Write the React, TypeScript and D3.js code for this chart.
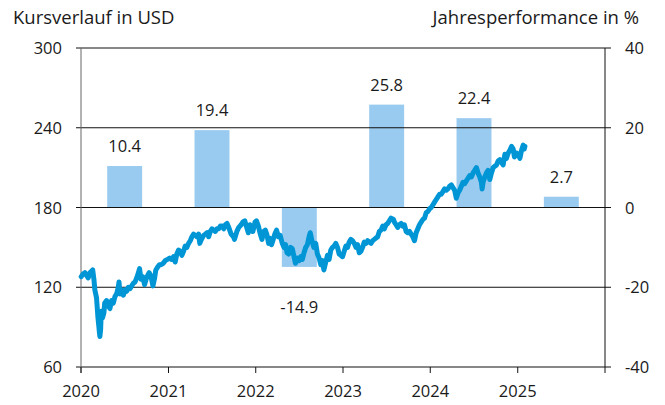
import React from "react";
import * as d3 from "d3";

const years = ["2020", "2021", "2022", "2023", "2024", "2025"];
const performance = [10.4, 19.4, -14.9, 25.8, 22.4, 2.7];
const leftTicks = [60, 120, 180, 240, 300];
const rightTicks = [-40, -20, 0, 20, 40];

const pricePoints: [string, number][] = [
  ["2020-01-02",128],["2020-01-10",130],["2020-01-17",131],["2020-01-24",129],["2020-01-31",127],["2020-02-07",131],["2020-02-14",132],["2020-02-19",133],
  ["2020-02-24",126],["2020-02-28",118],["2020-03-06",112],["2020-03-12",97],["2020-03-16",90],["2020-03-18",86],["2020-03-20",83],["2020-03-23",88],
  ["2020-03-26",102],["2020-03-31",97],["2020-04-06",101],["2020-04-09",108],["2020-04-17",110],["2020-04-24",106],["2020-05-01",104],["2020-05-08",110],
  ["2020-05-15",108],["2020-05-22",113],["2020-05-29",115],["2020-06-05",120],["2020-06-08",124],["2020-06-12",115],["2020-06-19",118],["2020-06-26",114],
  ["2020-07-03",118],["2020-07-10",117],["2020-07-17",120],["2020-07-24",119],["2020-07-31",121],["2020-08-07",123],["2020-08-14",124],["2020-08-21",127],
  ["2020-08-28",131],["2020-09-02",134],["2020-09-08",126],["2020-09-15",128],["2020-09-23",122],["2020-10-01",127],["2020-10-12",131],["2020-10-20",128],
  ["2020-10-28",121],["2020-11-04",127],["2020-11-09",133],["2020-11-16",135],["2020-11-24",137],["2020-12-01",137],["2020-12-10",138],["2020-12-18",140],
  ["2020-12-28",141],
  ["2021-01-06",142],["2021-01-14",141],["2021-01-22",143],["2021-01-29",139],["2021-02-05",145],["2021-02-12",148],["2021-02-19",147],["2021-02-26",144],
  ["2021-03-05",147],["2021-03-12",151],["2021-03-19",150],["2021-03-26",153],["2021-04-02",155],["2021-04-09",158],["2021-04-16",160],["2021-04-23",159],
  ["2021-04-30",158],["2021-05-07",160],["2021-05-12",153],["2021-05-19",156],["2021-05-28",159],["2021-06-04",160],["2021-06-11",161],["2021-06-18",158],
  ["2021-06-25",162],["2021-07-02",164],["2021-07-09",163],["2021-07-16",162],["2021-07-23",164],["2021-07-30",164],["2021-08-06",166],["2021-08-13",166],
  ["2021-08-20",164],["2021-08-27",167],["2021-09-03",168],["2021-09-10",165],["2021-09-20",160],["2021-09-30",158],["2021-10-04",156],["2021-10-14",162],
  ["2021-10-22",165],["2021-11-01",167],["2021-11-08",169],["2021-11-16",170],["2021-11-26",164],["2021-12-01",161],["2021-12-08",167],["2021-12-15",165],
  ["2021-12-20",162],["2021-12-29",169],
  ["2022-01-04",170],["2022-01-12",166],["2022-01-20",160],["2022-01-27",156],["2022-02-03",162],["2022-02-10",163],["2022-02-16",160],["2022-02-24",153],
  ["2022-03-01",157],["2022-03-08",152],["2022-03-15",156],["2022-03-22",160],["2022-03-29",163],["2022-04-06",158],["2022-04-13",159],["2022-04-22",153],
  ["2022-04-29",150],["2022-05-06",152],["2022-05-12",146],["2022-05-19",145],["2022-05-27",150],["2022-06-03",149],["2022-06-10",143],["2022-06-16",138],
  ["2022-06-24",142],["2022-07-01",140],["2022-07-08",143],["2022-07-15",141],["2022-07-22",146],["2022-07-29",150],["2022-08-05",152],["2022-08-12",158],
  ["2022-08-17",161],["2022-08-24",155],["2022-09-01",150],["2022-09-09",153],["2022-09-16",145],["2022-09-23",142],["2022-09-30",137],["2022-10-07",140],
  ["2022-10-13",133],["2022-10-21",139],["2022-10-28",144],["2022-11-04",141],["2022-11-11",148],["2022-11-18",150],["2022-11-25",151],["2022-12-02",153],
  ["2022-12-09",150],["2022-12-16",145],["2022-12-23",144],["2022-12-30",143],
  ["2023-01-06",147],["2023-01-13",151],["2023-01-20",150],["2023-01-27",154],["2023-02-03",156],["2023-02-10",155],["2023-02-17",153],["2023-02-24",150],
  ["2023-03-03",152],["2023-03-10",146],["2023-03-17",147],["2023-03-24",150],["2023-03-31",154],["2023-04-07",153],["2023-04-14",155],["2023-04-21",154],
  ["2023-04-28",153],["2023-05-05",155],["2023-05-12",156],["2023-05-19",157],["2023-05-26",158],["2023-06-02",162],["2023-06-09",163],["2023-06-16",166],
  ["2023-06-23",164],["2023-06-30",167],["2023-07-07",168],["2023-07-14",170],["2023-07-21",172],["2023-07-31",171],["2023-08-04",169],["2023-08-11",167],
  ["2023-08-18",165],["2023-08-25",167],["2023-09-01",168],["2023-09-08",166],["2023-09-15",167],["2023-09-22",162],["2023-09-29",161],["2023-10-06",162],
  ["2023-10-13",160],["2023-10-20",158],["2023-10-27",155],["2023-11-03",161],["2023-11-10",164],["2023-11-17",167],["2023-11-24",169],["2023-12-01",171],
  ["2023-12-08",172],["2023-12-15",176],["2023-12-22",177],["2023-12-29",179],
  ["2024-01-05",180],["2024-01-12",182],["2024-01-19",184],["2024-01-26",186],["2024-02-02",188],["2024-02-09",190],["2024-02-16",190],["2024-02-23",192],
  ["2024-03-01",194],["2024-03-08",193],["2024-03-15",194],["2024-03-22",196],["2024-03-29",197],["2024-04-05",195],["2024-04-12",193],["2024-04-19",187],
  ["2024-04-26",191],["2024-05-03",193],["2024-05-10",196],["2024-05-17",199],["2024-05-24",198],["2024-05-31",200],["2024-06-07",202],["2024-06-14",204],
  ["2024-06-21",203],["2024-06-28",206],["2024-07-05",208],["2024-07-12",210],["2024-07-19",206],["2024-07-26",203],["2024-08-02",199],["2024-08-05",194],
  ["2024-08-09",199],["2024-08-16",203],["2024-08-23",206],["2024-08-30",208],["2024-09-06",201],["2024-09-13",206],["2024-09-20",210],["2024-09-27",211],
  ["2024-10-04",212],["2024-10-11",215],["2024-10-18",216],["2024-10-25",214],["2024-11-01",212],["2024-11-08",220],["2024-11-15",217],["2024-11-22",221],
  ["2024-11-29",223],["2024-12-06",226],["2024-12-13",224],["2024-12-18",218],["2024-12-27",221],
  ["2025-01-03",220],["2025-01-10",217],["2025-01-17",223],["2025-01-24",227],["2025-01-28",224],["2025-01-31",226]
];

const W = 665, H = 405;
const left = 81, right = 605, top = 48, bottom = 367;
const font = "'Open Sans', Lato, sans-serif";

export default function App() {
  const parse = d3.timeParse("%Y-%m-%d");
  const x = d3.scaleTime().domain([new Date(2020, 0, 1), new Date(2026, 0, 1)]).range([left, right]);
  const yL = d3.scaleLinear().domain([60, 300]).range([bottom, top]);
  const yR = d3.scaleLinear().domain([-40, 40]).range([bottom, top]);
  const band = d3.scaleBand().domain(years).range([left, right]).paddingInner(0.6).paddingOuter(0.3);
  const data = pricePoints.map(([d, v]) => ({ date: parse(d) as Date, v }));
  const line = d3.line<{ date: Date; v: number }>().x(d => x(d.date)).y(d => yL(d.v));
  const yearTicks = d3.range(2020, 2027).map(y => new Date(y, 0, 1));

  return (
    <svg width={W} height={H} style={{ position: "absolute", left: 0, top: 0, fontFamily: font }}>
      <rect width={W} height={H} fill="#fff" />
      <text x={13} y={24} fontSize={18.5} fill="#1a1a1a">Kursverlauf in USD</text>
      <text x={639} y={24} fontSize={18.5} fill="#1a1a1a" textAnchor="end">Jahresperformance in %</text>

      {performance.map((p, i) => {
        const y0 = yR(0), y1 = yR(p);
        return (
          <g key={years[i]}>
            <rect x={band(years[i])} width={band.bandwidth()} y={Math.min(y0, y1)} height={Math.abs(y1 - y0)} fill="#99CAEF" />
            <text x={(band(years[i]) as number) + band.bandwidth() / 2} y={p >= 0 ? y1 - 14 : y1 + 46} fontSize={16.5} textAnchor="middle" fill="#1a1a1a">{p.toFixed(1)}</text>
          </g>
        );
      })}

      {leftTicks.map(t => (
        <g key={"l" + t}>
          <line x1={left - 5} x2={right + 6} y1={yL(t)} y2={yL(t)} stroke="#111" strokeWidth={1} />
          <text x={62} y={yL(t) + 6} fontSize={16.5} textAnchor="end" fill="#1a1a1a">{t}</text>
        </g>
      ))}
      {rightTicks.map(t => (
        <text key={"r" + t} x={625} y={yR(t) + 6} fontSize={16.5} fill="#1a1a1a">{t}</text>
      ))}
      <line x1={left} x2={left} y1={top} y2={bottom + 6} stroke="#666" strokeWidth={1} />
      <line x1={right} x2={right} y1={top} y2={bottom} stroke="#111" strokeWidth={1} />
      {yearTicks.map((d, i) => (
        <g key={"x" + i}>
          <line x1={x(d)} x2={x(d)} y1={bottom} y2={bottom + 6} stroke="#111" strokeWidth={1} />
          {i < 6 && <text x={x(d)} y={397} fontSize={16.5} textAnchor="middle" fill="#1a1a1a">{d.getFullYear()}</text>}
        </g>
      ))}

      <path d={line(data) || ""} fill="none" stroke="#0096D6" strokeWidth={5} strokeLinejoin="round" strokeLinecap="round" />
    </svg>
  );
}
